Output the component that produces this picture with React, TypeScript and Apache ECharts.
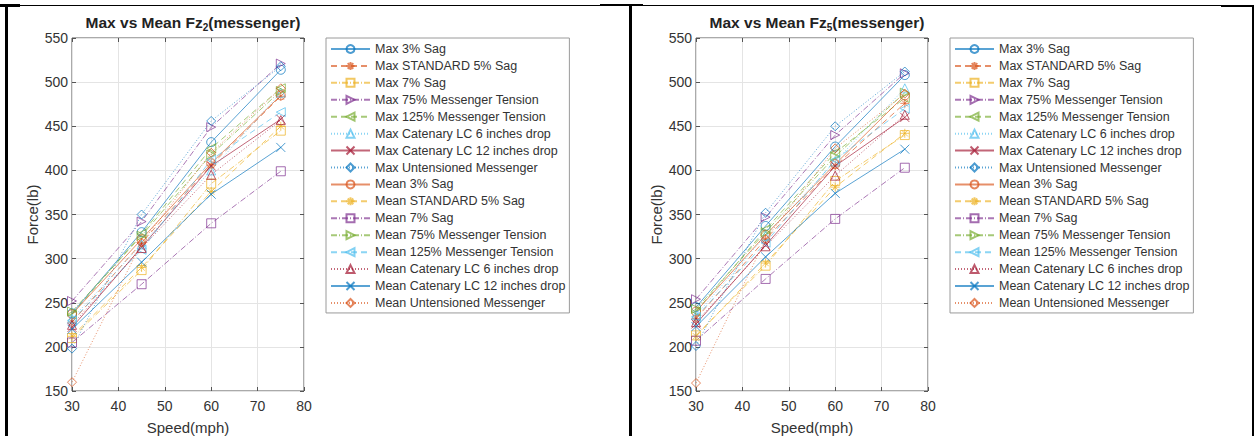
import React, { useEffect, useRef } from 'react';
import * as echarts from 'echarts';

const speeds = [30, 45, 60, 75];
const xTicks = { min: 30, max: 80, interval: 10 };
const yTicks = { min: 150, max: 550, interval: 50 };
const xTitle = 'Speed(mph)';
const yTitle = 'Force(lb)';

const seriesNames = [
  'Max 3% Sag',
  'Max STANDARD 5% Sag',
  'Max 7% Sag',
  'Max 75% Messenger Tension',
  'Max 125% Messenger Tension',
  'Max Catenary LC 6 inches drop',
  'Max Catenary LC 12 inches drop',
  'Max Untensioned Messenger',
  'Mean 3% Sag',
  'Mean STANDARD 5% Sag',
  'Mean 7% Sag',
  'Mean 75% Messenger Tension',
  'Mean 125% Messenger Tension',
  'Mean Catenary LC 6 inches drop',
  'Mean Catenary LC 12 inches drop',
  'Mean Untensioned Messenger',
];

// Panel 1: Fz2 (messenger)
const fz2Max = [
  [238, 330, 432, 514],
  [228, 318, 406, 484],
  [210, 287, 385, 445],
  [252, 342, 449, 521],
  [237, 328, 425, 493],
  [232, 316, 400, 488],
  [222, 313, 405, 458],
  [198, 350, 456, 518],
];
const fz2Mean = [
  [237, 322, 408, 485],
  [212, 290, 376, 450],
  [205, 271, 340, 399],
  [240, 326, 418, 490],
  [230, 310, 412, 466],
  [225, 312, 395, 457],
  [220, 296, 373, 426],
  [160, 318, 420, 493],
];

// Panel 2: Fz5 (messenger)
const fz5Max = [
  [245, 337, 427, 508],
  [232, 322, 405, 476],
  [213, 292, 388, 440],
  [254, 347, 440, 510],
  [240, 333, 420, 482],
  [236, 326, 410, 493],
  [226, 315, 405, 460],
  [201, 352, 450, 512],
];
const fz5Mean = [
  [240, 327, 407, 485],
  [212, 295, 381, 442],
  [207, 277, 345, 403],
  [243, 330, 416, 488],
  [234, 318, 412, 470],
  [228, 314, 394, 463],
  [223, 302, 374, 424],
  [159, 322, 425, 487],
];

const C = ['#0072BD', '#D95319', '#EDB120', '#7E2F8E', '#77AC30', '#4DBEEE', '#A2142F'];
const SOLID: any = 'solid';
const DASH: any = [6, 4];
const DOT: any = [1, 2];
const DASHDOT: any = [6, 2, 1, 2];
const lineTypes = [SOLID, DASH, DASHDOT, DASHDOT, DASH, DOT, SOLID, DOT, SOLID, DASH, DASHDOT, DASHDOT, DASH, DOT, SOLID, DOT];
const SYM = {
  circle: 'circle',
  star: 'path://M5,0L5,10M0,5L10,5M1.5,1.5L8.5,8.5M8.5,1.5L1.5,8.5',
  square: 'rect',
  right: 'path://M0,0L10,5L0,10Z',
  left: 'path://M10,0L0,5L10,10Z',
  up: 'path://M5,0L10,9L0,9Z',
  cross: 'path://M0,0L10,10M10,0L0,10',
  diamond: 'path://M5,0L10,5L5,10L0,5Z',
};
const symbols = [
  SYM.circle, SYM.star, SYM.square, SYM.right, SYM.left, SYM.up, SYM.cross, SYM.diamond,
  SYM.circle, SYM.star, SYM.square, SYM.right, SYM.left, SYM.up, SYM.cross, SYM.diamond,
];

const FONT = '"Liberation Sans", Arial, Helvetica, sans-serif';
const TXT = '#333333';
const AX = '#555555';

export default function App() {
  const ref = useRef<HTMLDivElement>(null);

  useEffect(() => {
    if (!ref.current) return;
    const chart = echarts.init(ref.current, undefined, { renderer: 'svg' });

    const panels = [
      { sub: '2', data: [...fz2Max, ...fz2Mean], off: 0 },
      { sub: '5', data: [...fz5Max, ...fz5Mean], off: 624 },
    ];

    const grids: any[] = [];
    const xAxes: any[] = [];
    const yAxes: any[] = [];
    const series: any[] = [];
    const legends: any[] = [];
    const titles: any[] = [];
    const graphics: any[] = [];

    panels.forEach((p, pi) => {
      grids.push({
        left: 72 + p.off,
        top: 38,
        width: 232,
        height: 353,
        show: true,
        borderColor: AX,
        borderWidth: 1,
        backgroundColor: 'transparent',
      });
      const tick = { show: true, inside: true, length: 4, lineStyle: { color: AX, width: 1 } };
      xAxes.push({
        type: 'value',
        gridIndex: pi,
        position: 'bottom',
        ...xTicks,
        axisLine: { show: false },
        axisTick: tick,
        axisLabel: { fontSize: 14, color: TXT, fontFamily: FONT, margin: 8 },
        splitLine: { show: true, lineStyle: { color: '#e4e4e4', width: 1 } },
      });
      xAxes.push({
        type: 'value',
        gridIndex: pi,
        position: 'top',
        ...xTicks,
        axisLine: { show: false },
        axisTick: tick,
        axisLabel: { show: false },
        splitLine: { show: false },
      });
      yAxes.push({
        type: 'value',
        gridIndex: pi,
        position: 'left',
        ...yTicks,
        axisLine: { show: false },
        axisTick: tick,
        axisLabel: { fontSize: 14, color: TXT, fontFamily: FONT, margin: 4 },
        splitLine: { show: true, lineStyle: { color: '#e4e4e4', width: 1 } },
      });
      yAxes.push({
        type: 'value',
        gridIndex: pi,
        position: 'right',
        ...yTicks,
        axisLine: { show: false },
        axisTick: tick,
        axisLabel: { show: false },
        splitLine: { show: false },
      });

      p.data.forEach((vals, si) => {
        const col = C[si % 7];
        series.push({
          type: 'line',
          name: seriesNames[si],
          xAxisIndex: pi * 2,
          yAxisIndex: pi * 2,
          data: speeds.map((s, k) => [s, vals[k]]),
          symbol: symbols[si],
          symbolSize: 9,
          showSymbol: true,
          lineStyle: { color: col, width: 1, type: lineTypes[si], opacity: 0.65 },
          itemStyle: { color: 'rgba(0,0,0,0)', borderColor: col, borderWidth: 1, opacity: 0.7 },
          emphasis: { disabled: true },
          z: 2,
        });
      });

      legends.push({
        orient: 'vertical',
        left: 326 + p.off,
        top: 38,
        data: seriesNames,
        selectedMode: false,
        itemWidth: 39,
        itemHeight: 10,
        itemGap: 2.93,
        padding: [4, 4, 3, 4],
        borderColor: '#9a9a9a',
        borderWidth: 1,
        backgroundColor: '#ffffff',
        textStyle: { fontSize: 12.5, lineHeight: 14, color: TXT, fontFamily: FONT },
      });

      titles.push({
        text: `{a|Max vs Mean Fz}{s|${p.sub}}{a|(messenger)}`,
        left: 188 + p.off,
        top: 7,
        textAlign: 'center',
        textStyle: {
          rich: {
            a: { fontSize: 15.5, fontWeight: 'bold', color: '#222', fontFamily: FONT, lineHeight: 20 },
            s: { fontSize: 10, fontWeight: 'bold', color: '#222', fontFamily: FONT, lineHeight: 20, padding: [11, 0, 0, 0] },
          },
        },
      });

      graphics.push({
        type: 'text',
        x: 188 + p.off,
        y: 427,
        style: { text: xTitle, fontSize: 15, fill: TXT, fontFamily: FONT, textAlign: 'center', textVerticalAlign: 'middle', verticalAlign: 'middle' },
      });
      graphics.push({
        type: 'text',
        x: 32 + p.off,
        y: 214.5,
        rotation: Math.PI / 2,
        style: { text: yTitle, fontSize: 15, fill: TXT, fontFamily: FONT, textAlign: 'center', textVerticalAlign: 'middle', verticalAlign: 'middle' },
      });
    });

    chart.setOption({
      animation: false,
      backgroundColor: '#ffffff',
      title: titles,
      grid: grids,
      xAxis: xAxes,
      yAxis: yAxes,
      legend: legends,
      graphic: graphics,
      series,
    });

    return () => chart.dispose();
  }, []);

  const line = (s: React.CSSProperties) => (
    <div style={{ position: 'absolute', background: '#000', ...s }} />
  );

  return (
    <div style={{ position: 'absolute', left: 0, top: 0, width: 1254, height: 436, background: '#fff', overflow: 'hidden' }}>
      <div ref={ref} style={{ position: 'absolute', left: 0, top: 0, width: 1254, height: 436 }} />
      {line({ left: 6, top: 5, width: 1248, height: 1 })}
      {line({ left: 0, top: 4, width: 20, height: 3 })}
      {line({ left: 600, top: 4, width: 43, height: 2 })}
      {line({ left: 1221, top: 5, width: 33, height: 2 })}
      {line({ left: 5, top: 5, width: 3, height: 431 })}
      {line({ left: 629, top: 5, width: 3, height: 431 })}
      {line({ left: 1252, top: 5, width: 2, height: 431 })}
    </div>
  );
}
